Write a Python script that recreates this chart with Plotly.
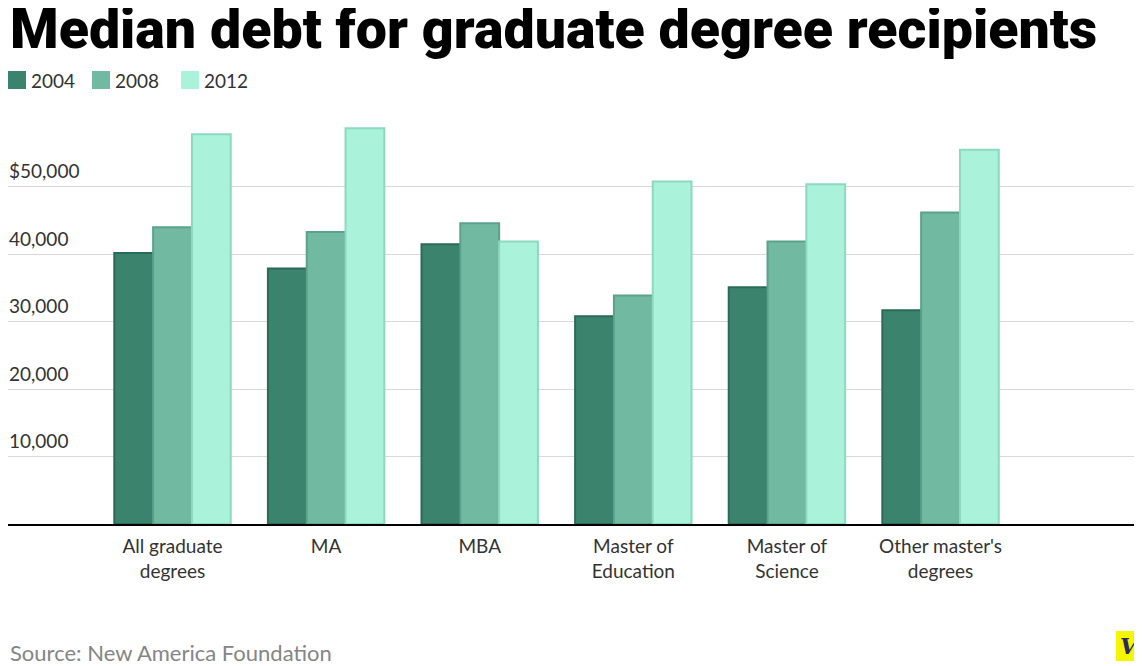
import plotly.graph_objects as go

# ---- data ----
categories = ["All graduate<br>degrees", "MA", "MBA", "Master of<br>Education",
              "Master of<br>Science", "Other master's<br>degrees"]
years = ["2004", "2008", "2012"]
debt_2004 = [40200, 37900, 41500, 30800, 35100, 31700]
debt_2008 = [44000, 43300, 44600, 33900, 41900, 46200]
debt_2012 = [57800, 58700, 41900, 50800, 50400, 55500]
y_tick_vals = [10000, 20000, 30000, 40000, 50000]
y_tick_text = ["10,000", "20,000", "30,000", "40,000", "$50,000"]

fills = ["#3b836d", "#72b9a1", "#aaf2da"]
strokes = ["#2a6b57", "#5aa38a", "#8dd9bf"]
series = [debt_2004, debt_2008, debt_2012]

# page body has an 8px margin; figure is sized to fit the window
OFF = 8
W, H = 1142 - OFF, 666 - OFF
L, R, T, B = 0, 5, 98, 142
PW, PH = W - L - R, H - T - B


def px(x_ref):
    """reference-screen x pixel -> paper coordinate"""
    return (x_ref - OFF - L) / PW


def py(y_ref):
    """reference-screen y pixel -> paper coordinate"""
    return (H - B - (y_ref - OFF)) / PH


fig = go.Figure()
for name, vals, f, s in zip(years, series, fills, strokes):
    fig.add_trace(go.Bar(
        x=categories, y=vals, name=name, showlegend=False,
        marker=dict(color=f, line=dict(color=s, width=2)),
        hoverinfo="x+y+name",
    ))

annotations = []
shapes = []

# y tick labels above gridlines
for v, t in zip(y_tick_vals, y_tick_text):
    annotations.append(dict(
        x=px(7), xref="paper", y=v, yref="y", text=t, showarrow=False,
        xanchor="left", yanchor="middle", yshift=16,
        font=dict(family="Lato", size=19, color="#333333"),
    ))

# legend
leg_x = [8, 92, 181]
for lx, name, f in zip(leg_x, years, fills):
    shapes.append(dict(type="rect", xref="paper", yref="paper",
                       x0=px(lx), x1=px(lx + 18), y0=py(89), y1=py(71),
                       fillcolor=f, line=dict(width=0)))
    annotations.append(dict(
        x=px(lx + 21), xref="paper", y=py(80), yref="paper", text=name,
        showarrow=False, xanchor="left", yanchor="middle",
        font=dict(family="Lato", size=19, color="#333333"),
    ))

# title
annotations.append(dict(
    x=px(8), xref="paper", y=py(30), yref="paper",
    text="Median debt for graduate degree recipients", showarrow=False,
    xanchor="left", yanchor="middle",
    font=dict(family="Roboto, Arial, sans-serif", size=55.5, color="#000000", weight=900),
))

# source
annotations.append(dict(
    x=px(8), xref="paper", y=py(652), yref="paper",
    text="Source: New America Foundation", showarrow=False,
    xanchor="left", yanchor="middle",
    font=dict(family="Lato", size=22, color="#858585"),
))

# logo
shapes.append(dict(type="rect", xref="paper", yref="paper",
                   x0=px(1116), x1=px(1142), y0=py(661), y1=py(631),
                   fillcolor="#f5f500", line=dict(width=0)))
annotations.append(dict(
    x=px(1129), xref="paper", y=py(646), yref="paper",
    text="<b><i>V</i></b>", showarrow=False, xanchor="center", yanchor="middle",
    font=dict(family="DejaVu Serif", size=22, color="#2b2a5a"),
))

fig.update_layout(
    width=W, height=H,
    margin=dict(l=L, r=R, t=T, b=B),
    paper_bgcolor="white", plot_bgcolor="white",
    barmode="group", bargap=0.242, bargroupgap=0,
    showlegend=False,
    shapes=shapes, annotations=annotations,
    xaxis=dict(
        type="category", categoryorder="array", categoryarray=categories,
        range=[-1.071, 6.279], showgrid=False, zeroline=False,
        showline=True, linecolor="#000000", linewidth=2,
        ticks="", ticklabelstandoff=4,
        tickfont=dict(family="Lato", size=19, color="#333333"),
        fixedrange=True,
    ),
    yaxis=dict(
        range=[0, 62000], tickvals=y_tick_vals, showticklabels=False,
        showgrid=True, gridcolor="#d9d9d9", gridwidth=1,
        zeroline=False, showline=False, ticks="", fixedrange=True,
    ),
)

fig.write_html("out.html")
